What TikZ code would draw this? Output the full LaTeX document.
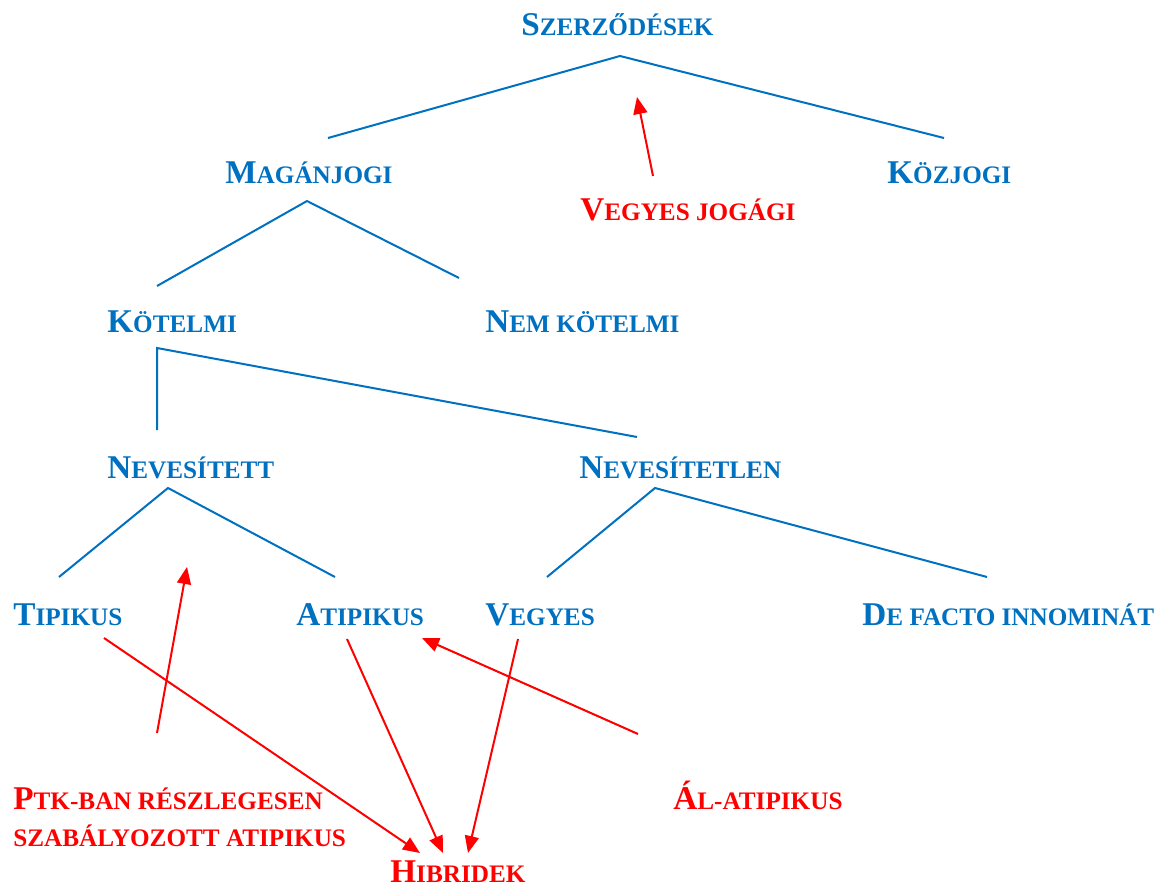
\documentclass[tikz,border=0pt]{standalone}
\usepackage{fontspec}
\setmainfont{Liberation Serif}
\usepackage{xcolor}
\usepackage{tikz}
\usetikzlibrary{arrows.meta}
\definecolor{treeblue}{HTML}{0070C0}
\definecolor{arrowred}{HTML}{FF0000}
% fake small caps: big first letter, the rest in smaller capitals
\newcommand{\smcap}[2]{{\fontsize{16.6}{18.5}\selectfont #1}#2}

\begin{document}
\begin{tikzpicture}[x=0.5pt, y=-0.5pt,
  every node/.style={font=\bfseries\fontsize{12.6}{18.5}\selectfont, inner sep=0pt, anchor=base west},
  blu/.style={text=treeblue}, rd/.style={text=arrowred},
  branch/.style={treeblue, line width=1pt},
  pointer/.style={arrowred, line width=1pt, -{Triangle[length=8.5pt, width=7pt]}}]
  \useasboundingbox (0,0) rectangle (1160,887);

  % tree labels
  \node[blu] (szerz) at (521,36) {\smcap{S}{ZERZŐDÉSEK}};
  \node[blu] (magan) at (225,184) {\smcap{M}{AGÁNJOGI}};
  \node[blu] (koz) at (887,184) {\smcap{K}{ÖZJOGI}};
  \node[blu] (kotelmi) at (107,333) {\smcap{K}{ÖTELMI}};
  \node[blu] (nemkot) at (485,333) {\smcap{N}{EM KÖTELMI}};
  \node[blu] (nevesitett) at (107,478) {\smcap{N}{EVESÍTETT}};
  \node[blu] (nevesitetlen) at (579,478) {\smcap{N}{EVESÍTETLEN}};
  \node[blu] (tipikus) at (13,625) {\smcap{T}{IPIKUS}};
  \node[blu] (atipikus) at (296,625) {\smcap{A}{TIPIKUS}};
  \node[blu] (vegyes) at (485,625) {\smcap{V}{EGYES}};
  \node[blu] (defacto) at (862,625) {\smcap{D}{E FACTO INNOMINÁT}};

  % red labels
  \node[rd] (jogagi) at (580,221) {\smcap{V}{EGYES JOGÁGI}};
  \node[rd, align=left] (ptk) at (13,846) {\smcap{P}{TK-BAN RÉSZLEGESEN}\\SZABÁLYOZOTT ATIPIKUS};
  \node[rd] (alatip) at (673,809) {\smcap{Á}{L-ATIPIKUS}};
  \node[rd] (hibrid) at (390,882) {\smcap{H}{IBRIDEK}};

  % branch ends
  \coordinate (szerz-fork) at (620,56);
  \coordinate (magan-up) at (328,138);
  \coordinate (koz-up) at (944,138);
  \coordinate (magan-fork) at (307,201);
  \coordinate (kotelmi-up) at (157,286);
  \coordinate (nemkot-up) at (459,278);
  \coordinate (kotelmi-fork) at (157,348);
  \coordinate (nevesitett-up) at (157,430);
  \coordinate (nevesitetlen-up) at (637,437);
  \coordinate (nevesitett-fork) at (168,488);
  \coordinate (tipikus-up) at (59,577);
  \coordinate (atipikus-up) at (335,577);
  \coordinate (nevesitetlen-fork) at (655,488);
  \coordinate (vegyes-up) at (547,577);
  \coordinate (defacto-up) at (987,577);

  \draw[branch] (magan-up) -- (szerz-fork) -- (koz-up);
  \draw[branch] (kotelmi-up) -- (magan-fork) -- (nemkot-up);
  \draw[branch] (nevesitett-up) -- (kotelmi-fork) -- (nevesitetlen-up);
  \draw[branch] (tipikus-up) -- (nevesitett-fork) -- (atipikus-up);
  \draw[branch] (vegyes-up) -- (nevesitetlen-fork) -- (defacto-up);

  % arrow ends
  \coordinate (jogagi-tail) at (653,176);
  \coordinate (jogagi-tip) at (637,97);
  \coordinate (ptk-tail) at (157,733);
  \coordinate (ptk-tip) at (187,567);
  \coordinate (tipikus-tail) at (104,638);
  \coordinate (atipikus-tail) at (347,639);
  \coordinate (vegyes-tail) at (518,639);
  \coordinate (hibrid-in1) at (420,853);
  \coordinate (hibrid-in2) at (443,853);
  \coordinate (hibrid-in3) at (468,853);
  \coordinate (alatip-tail) at (638,734);
  \coordinate (alatip-tip) at (422,638);

  \draw[pointer] (jogagi-tail) -- (jogagi-tip);
  \draw[pointer] (ptk-tail) -- (ptk-tip);
  \draw[pointer] (tipikus-tail) -- (hibrid-in1);
  \draw[pointer] (atipikus-tail) -- (hibrid-in2);
  \draw[pointer] (vegyes-tail) -- (hibrid-in3);
  \draw[pointer] (alatip-tail) -- (alatip-tip);
\end{tikzpicture}
\end{document}
